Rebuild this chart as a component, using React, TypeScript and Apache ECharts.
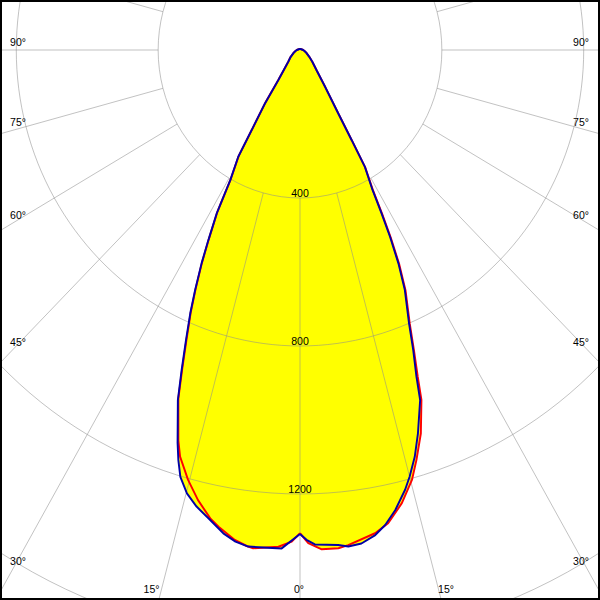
import { useEffect, useRef } from 'react';
import * as echarts from 'echarts';

// ---- data (angle from nadir in degrees, luminous intensity in cd) ----
// C0-C180 plane (red)
const leftRedAngles = [0, 1.0, 2.6, 5.6, 6.4, 7.9, 10.1, 11.3, 13.3, 15.2, 17.1, 18.0, 20.0, 21.1, 22.3, 23.5, 24.5, 25.7, 26.7, 28.0, 29.2, 31.1, 32.2, 34.4, 37.0, 40, 46, 55, 65, 75, 90, 120, 180];
const leftRedValues = [1306, 1329, 1344, 1353, 1349, 1337, 1309, 1291, 1250, 1204, 1150, 1110, 1003, 922, 842, 772, 710, 637, 572, 498, 401, 335, 254, 174, 101, 72, 46, 32, 21, 14, 9, 4, 3];
const rightRedAngles = [0, 1.0, 2.6, 4.6, 5.8, 9.2, 11.0, 13.2, 15.2, 16.5, 18.2, 19.9, 20.6, 21.6, 22.7, 24.6, 25.8, 26.8, 27.6, 28.5, 30.1, 30.9, 32.2, 35.4, 40, 47.6, 55, 65, 75, 90, 120, 180];
const rightRedValues = [1306, 1333, 1351, 1351, 1345, 1323, 1303, 1258, 1204, 1156, 1091, 1006, 944, 873, 802, 715, 642, 567, 500, 431, 366, 285, 203, 123, 75, 47, 32, 21, 14, 9, 4, 3];
// C90-C270 plane (blue)
const leftBlueAngles = [0, 2.2, 6.2, 7.8, 9.4, 11.5, 13.3, 14.9, 16.3, 17.2, 18.0, 20.0, 21.1, 22.3, 23.5, 24.5, 25.7, 26.7, 28.0, 29.2, 31.1, 32.2, 34.4, 37.0, 40, 46, 55, 65, 75, 90, 120, 180];
const leftBlueValues = [1308, 1348, 1350, 1341, 1324, 1292, 1268, 1240, 1202, 1160, 1117, 1007, 927, 847, 776, 713, 640, 575, 500, 403, 337, 255, 175, 102, 73, 46, 32, 21, 14, 9, 4, 3];
const rightBlueAngles = [0, 0.8, 1.8, 4.6, 5.8, 7.4, 9.2, 10.6, 12.2, 14.0, 15.0, 16.4, 17.8, 19.7, 20.4, 21.5, 22.6, 24.5, 25.7, 26.7, 27.5, 28.4, 30.1, 30.9, 32.2, 35.4, 40, 47.6, 55, 65, 75, 90, 120, 180];
const rightBlueValues = [1308, 1324, 1337, 1342, 1349, 1345, 1328, 1306, 1272, 1225, 1194, 1146, 1088, 1005, 942, 871, 800, 713, 640, 565, 498, 430, 365, 284, 202, 122, 75, 47, 32, 21, 14, 9, 4, 3];

const radiusTicks = [400, 800, 1200];
const angleTicks = ['0°', '15°', '30°', '45°', '60°', '75°', '90°'];

// ---- layout ----
const SX = 600 / 626; // horizontal squeeze of the picture
const CHART_W = 626;
const CX = CHART_W / 2;
const CY = 50;
const K = 0.37; // px per cd
const RMAX = 1800;

// label positions in final (page) pixels: [x, y] centres
const leftLabelPos: number[][] = [[299, 589], [151.5, 589], [18, 561], [18, 342], [18, 215], [18, 122], [18, 42]];
const rightLabelPos: number[][] = [[299, 589], [446, 589], [581, 561], [581, 342], [581, 215], [581, 122], [581, 42]];

function loop(la: number[], lv: number[], ra: number[], rv: number[]) {
  const pts: number[][] = [];
  for (let i = 0; i < la.length; i++) pts.push([lv[i], la[i]]);
  for (let i = ra.length - 1; i >= 0; i--) pts.push([rv[i], 360 - ra[i]]);
  return pts;
}

const FONT = '11px "Liberation Sans", Arial, sans-serif';

function buildOption() {
  const redData = loop(leftRedAngles, leftRedValues, rightRedAngles, rightRedValues);
  const blueData = loop(leftBlueAngles, leftBlueValues, rightBlueAngles, rightBlueValues);
  const gridColor = 'rgba(140,140,140,0.55)';
  const texts: any[] = [];
  angleTicks.forEach((t, i) => {
    const sides = i === 0 ? [leftLabelPos[i]] : [leftLabelPos[i], rightLabelPos[i]];
    sides.forEach((p) => {
      texts.push({
        type: 'text', x: p[0] / SX, y: p[1], z: 20,
        style: { text: t, fill: '#000', font: FONT, align: 'center', verticalAlign: 'middle' },
      });
    });
  });
  radiusTicks.forEach((v) => {
    texts.push({
      type: 'text', x: CX, y: CY + v * K - 5.5, z: 20,
      style: { text: String(v), fill: '#000', font: FONT, align: 'center', verticalAlign: 'middle' },
    });
  });
  const lineBase = { type: 'line', coordinateSystem: 'polar', polarIndex: 0, symbol: 'none', silent: true };
  return {
    animation: false,
    backgroundColor: '#fff',
    polar: [
      { center: [CX, CY], radius: [0, RMAX * K] },
      { center: [CX, CY], radius: [400 * K, RMAX * K] },
    ],
    angleAxis: [
      { polarIndex: 0, type: 'value', min: 0, max: 360, startAngle: -90, clockwise: true, show: false },
      {
        polarIndex: 1, type: 'value', min: 0, max: 360, interval: 15, startAngle: -90, clockwise: true, z: 5,
        axisLine: { show: false }, axisTick: { show: false }, axisLabel: { show: false },
        splitLine: { show: true, lineStyle: { color: gridColor, width: 1 } },
      },
    ],
    radiusAxis: [
      { polarIndex: 0, type: 'value', min: 0, max: RMAX, show: false },
      {
        polarIndex: 1, type: 'value', min: 400, max: RMAX, interval: 400, z: 5,
        axisLine: { show: false }, axisTick: { show: false }, axisLabel: { show: false },
        splitLine: { show: true, lineStyle: { color: gridColor, width: 1 } },
      },
    ],
    series: [
      { ...lineBase, name: 'fillRed', data: redData, z: 1, lineStyle: { width: 0 }, areaStyle: { color: '#ffff00', opacity: 1 } },
      { ...lineBase, name: 'fillBlue', data: blueData, z: 1, lineStyle: { width: 0 }, areaStyle: { color: '#ffff00', opacity: 1 } },
      { ...lineBase, name: 'C0-C180', data: redData, z: 10, lineStyle: { color: '#ff0000', width: 2 } },
      { ...lineBase, name: 'C90-C270', data: blueData, z: 11, lineStyle: { color: '#0000a8', width: 2 } },
    ],
    graphic: texts,
  };
}

export default function App() {
  const ref = useRef<HTMLDivElement>(null);
  useEffect(() => {
    if (!ref.current) return;
    const chart = echarts.init(ref.current, undefined, { renderer: 'svg' });
    chart.setOption(buildOption() as any);
    return () => chart.dispose();
  }, []);
  return (
    <div style={{ position: 'fixed', left: 0, top: 0, width: 600, height: 600, overflow: 'hidden', background: '#fff' }}>
      <div ref={ref} style={{ width: CHART_W, height: 600, transform: `scaleX(${SX})`, transformOrigin: '0 0' }} />
      <div style={{ position: 'absolute', left: 0, top: 0, width: 600, height: 600, boxSizing: 'border-box', border: '2px solid #000', pointerEvents: 'none' }} />
    </div>
  );
}
